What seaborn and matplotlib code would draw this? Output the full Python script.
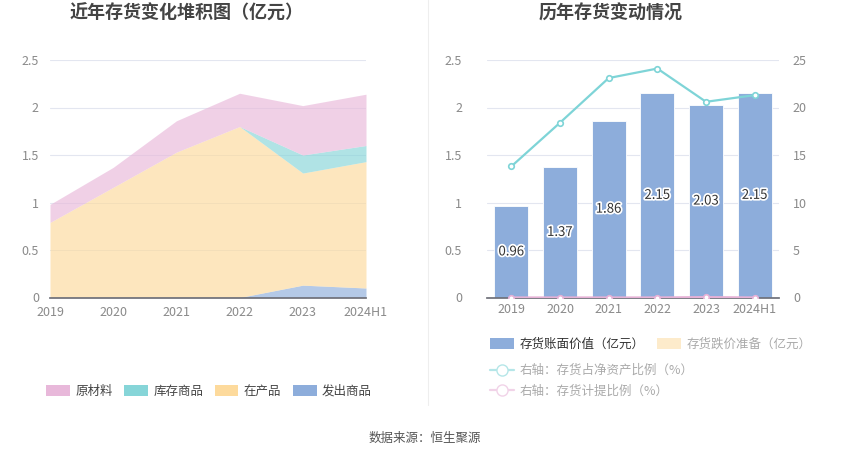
import numpy as np
import pandas as pd
import matplotlib
matplotlib.use('Agg')
import matplotlib.pyplot as plt
import matplotlib.patheffects as pe
from matplotlib.patches import Patch
from matplotlib.lines import Line2D
import seaborn as sns

# data
years = ['2019', '2020', '2021', '2022', '2023', '2024H1']
raw_material = [0.19, 0.21, 0.33, 0.35, 0.52, 0.54]      # 原材料
stock_goods = [0.0, 0.0, 0.0, 0.0, 0.19, 0.17]           # 库存商品
wip = [0.79, 1.16, 1.53, 1.80, 1.18, 1.33]               # 在产品
shipped = [0.0, 0.0, 0.0, 0.0, 0.13, 0.10]               # 发出商品

book_value = [0.96, 1.37, 1.86, 2.15, 2.03, 2.15]        # 存货账面价值（亿元）
ratio_net_assets = [13.8, 18.4, 23.1, 24.1, 20.6, 21.3]  # 存货占净资产比例（%）
provision_ratio = [0.0, 0.0, 0.0, 0.0, 0.04, 0.0]        # 存货计提比例（%）

sns.set_theme(style='white')
plt.rcParams['font.family'] = ['Noto Sans CJK SC', 'DejaVu Sans']
plt.rcParams['axes.unicode_minus'] = False

c_pink = '#E8B8DA'
c_teal = '#86D5D8'
c_yellow = '#FDDA9C'
c_blue = '#8DADDB'
tick_c = '#8a8a8a'
grid_c = '#e3e6f0'

W, H = 850, 459
fig = plt.figure(figsize=(8.5, 4.59), dpi=100)


def box(x0, y0, x1, y1):
    return [x0 / W, 1 - y1 / H, (x1 - x0) / W, (y1 - y0) / H]


# ---------- left: stacked area ----------
ax1 = fig.add_axes(box(50, 60, 366, 297.5))
x = np.arange(len(years))
ax1.stackplot(x, shipped, wip, stock_goods, raw_material,
              colors=[c_blue, c_yellow, c_teal, c_pink], alpha=0.65,
              linewidth=0, zorder=2)
ax1.set_xlim(0, len(years) - 1)
ax1.set_ylim(0, 2.5)
ax1.set_yticks([0, 0.5, 1, 1.5, 2, 2.5])
ax1.set_yticklabels(['0', '0.5', '1', '1.5', '2', '2.5'])
ax1.set_xticks(x)
ax1.set_xticklabels(years)
ax1.grid(axis='y', color=grid_c, linewidth=0.8, zorder=1)
ax1.set_axisbelow(True)
for s in ['left', 'right', 'top']:
    ax1.spines[s].set_visible(False)
ax1.spines['bottom'].set_color('#6e7079')
ax1.tick_params(axis='x', colors=tick_c, labelsize=9, length=4, width=0.8,
                direction='out', pad=2)
ax1.tick_params(axis='x', color='#6e7079')
ax1.tick_params(axis='y', colors=tick_c, labelsize=9, length=0, pad=8)

fig.text(187 / W, 1 - 13 / H, '近年存货变化堆积图（亿元）', ha='center',
         va='center', fontsize=13, fontweight='bold', color='#444444')

left_handles = [Patch(facecolor=c, edgecolor='none') for c in
                [c_pink, c_teal, c_yellow, c_blue]]
leg1 = fig.legend(left_handles, ['原材料', '库存商品', '在产品', '发出商品'],
                  loc='center', bbox_to_anchor=(209 / W, 1 - 391 / H), ncol=4,
                  frameon=False, fontsize=9, handlelength=1.9, handleheight=1.0,
                  handletextpad=0.45, columnspacing=0.9)
for t in leg1.get_texts():
    t.set_color('#444444')

# ---------- right: bars + lines ----------
ax2 = fig.add_axes(box(487, 60, 779, 297.5))
df = pd.DataFrame({'year': years, 'book': book_value,
                   'ratio': ratio_net_assets, 'prov': provision_ratio})
sns.barplot(data=df, x='year', y='book', ax=ax2, color=c_blue, width=0.7,
            saturation=1, edgecolor='white', linewidth=0.6, zorder=2)
ax2.set_ylim(0, 2.5)
ax2.set_xlim(-0.5, len(years) - 0.5)
ax2.set_yticks([0, 0.5, 1, 1.5, 2, 2.5])
ax2.set_yticklabels(['0', '0.5', '1', '1.5', '2', '2.5'])
ax2.grid(axis='y', color=grid_c, linewidth=0.8, zorder=0)
ax2.set_axisbelow(True)
ax2.set_xlabel('')
ax2.set_ylabel('')
for s in ['left', 'right', 'top']:
    ax2.spines[s].set_visible(False)
ax2.spines['bottom'].set_color('#6e7079')
ax2.tick_params(axis='x', colors=tick_c, labelsize=9, length=0, pad=4)
ax2.tick_params(axis='y', colors=tick_c, labelsize=9, length=0, pad=18)
for i, v in enumerate(book_value):
    ax2.text(i, v / 2, f'{v:.2f}', ha='center', va='center', fontsize=9.5,
             color='#333333', zorder=5,
             path_effects=[pe.withStroke(linewidth=2.5, foreground='white')])

ax3 = ax2.twinx()
ax3.set_position(ax2.get_position())
sns.lineplot(x=np.arange(len(years)), y=ratio_net_assets, ax=ax3,
             color='#7ED4D7', linewidth=1.6, marker='o', markersize=4,
             markerfacecolor='white', markeredgecolor='#7ED4D7',
             markeredgewidth=1.2, zorder=4)
sns.lineplot(x=np.arange(len(years)), y=provision_ratio, ax=ax3,
             color='#E6B1D6', linewidth=1.6, marker='o', markersize=4,
             markerfacecolor='white', markeredgecolor='#E6B1D6',
             markeredgewidth=1.2, zorder=4)
ax3.set_ylim(0, 25)
ax3.set_xlim(-0.5, len(years) - 0.5)
ax3.set_yticks([0, 5, 10, 15, 20, 25])
ax3.grid(False)
for s in ['left', 'right', 'top', 'bottom']:
    ax3.spines[s].set_visible(False)
ax3.tick_params(axis='y', colors=tick_c, labelsize=9, length=0, pad=10)

fig.text(611 / W, 1 - 13 / H, '历年存货变动情况', ha='center',
         va='center', fontsize=13, fontweight='bold', color='#444444')

h_a = [Patch(facecolor=c_blue, edgecolor='none'),
       Patch(facecolor='#FDEBCB', edgecolor='none')]
leg2 = fig.legend(h_a, ['存货账面价值（亿元）', '存货跌价准备（亿元）'],
                  loc='center left', bbox_to_anchor=(479 / W, 1 - 344 / H),
                  ncol=2, frameon=False, fontsize=9, handlelength=1.9,
                  handleheight=1.0, handletextpad=0.45, columnspacing=1.0)
leg2.get_texts()[0].set_color('#333333')
leg2.get_texts()[1].set_color('#aaaaaa')

h_b = [Line2D([0], [0], color='#B5E6E8', linewidth=1.6, marker='o',
              markersize=8, markerfacecolor='white', markeredgecolor='#B5E6E8'),
       Line2D([0], [0], color='#F1D3E8', linewidth=1.6, marker='o',
              markersize=8, markerfacecolor='white', markeredgecolor='#F1D3E8')]
leg3 = fig.legend(h_b, ['右轴：存货占净资产比例（%）', '右轴：存货计提比例（%）'],
                  loc='upper left', bbox_to_anchor=(479 / W, 1 - 353 / H),
                  ncol=1, frameon=False, fontsize=9, handlelength=1.9,
                  handletextpad=0.45, labelspacing=0.6)
for t in leg3.get_texts():
    t.set_color('#aaaaaa')

# divider and source
fig.add_artist(Line2D([428 / W, 428 / W], [1, 1 - 405 / H],
                      color='#eeeeee', linewidth=0.8))
fig.text(425 / W, 1 - 438 / H, '数据来源：恒生聚源', ha='center', va='center',
         fontsize=9, color='#555555')

fig.savefig('out.png', dpi=100)
